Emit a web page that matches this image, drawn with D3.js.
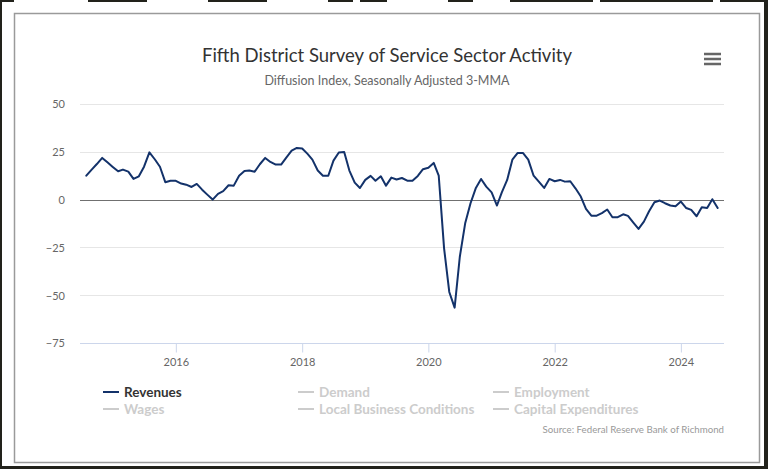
<!DOCTYPE html>
<html>
<head>
<meta charset="utf-8">
<script src="https://cdn.jsdelivr.net/npm/d3@7/dist/d3.min.js"></script>
<style>
  html, body { margin: 0; padding: 0; background: #fff; }
  svg { display: block; }
</style>
</head>
<body>
<svg id="chart" width="768" height="469"></svg>
<script>
// ---- data ----
const title = "Fifth District Survey of Service Sector Activity";
const subtitle = "Diffusion Index, Seasonally Adjusted 3-MMA";
const source = "Source: Federal Reserve Bank of Richmond";
const startMonth = "2014-08-01";
const revenues = [
  12.5, 15.7, 18.6, 21.8, 19.5, 17.1, 14.8, 15.7, 14.6, 10.8,
  12.2, 17.2, 24.7, 21.1, 17.2, 9.1, 9.9, 9.8, 8.4, 7.8,
  6.6, 8.2, 5.2, 2.6, 0, 3.0, 4.4, 7.5, 7.3, 12.5,
  15.0, 15.2, 14.6, 18.5, 21.8, 19.7, 18.3, 18.3, 22.0, 25.6,
  27.0, 26.7, 23.9, 20.9, 15.2, 12.5, 12.5, 20.4, 24.6, 24.9,
  15.2, 8.9, 6.1, 10.3, 12.4, 9.9, 12.2, 7.3, 11.5, 10.5,
  11.3, 9.9, 9.9, 12.4, 15.9, 16.7, 19.2, 12.5, -25.5, -48.3,
  -56.5, -29.9, -12.4, -1.9, 5.9, 10.8, 6.8, 3.8, -3.1, 3.8,
  10.3, 20.9, 24.4, 24.4, 20.9, 12.5, 9.4, 6.1, 10.8, 9.6,
  10.3, 9.4, 9.6, 5.9, 1.6, -4.9, -8.4, -8.4, -7.1, -5.2,
  -9.2, -9.2, -7.7, -8.5, -12, -15.3, -11.5, -6.1, -1.4, -0.5,
  -1.9, -3.1, -3.5, -1.0, -4.4, -5.4, -8.7, -4.0, -4.4, 0.2, -4.4
];
const yTicks = [-75, -50, -25, 0, 25, 50];
const xTickYears = [2016, 2018, 2020, 2022, 2024];
const legendItems = ["Revenues", "Demand", "Employment", "Wages", "Local Business Conditions", "Capital Expenditures"];
const legendActive = [true, false, false, false, false, false];

// ---- setup ----
const svg = d3.select("#chart");
const W = 768, H = 469;
const font = "Lato, 'Open Sans', sans-serif";

// outer screenshot frame
svg.append("rect").attr("x", 0).attr("y", 0).attr("width", W).attr("height", H).attr("fill", "#22221b");
svg.append("rect").attr("x", 2).attr("y", 2).attr("width", 762).attr("height", 464).attr("fill", "#ffffff");
// top strip light gaps
[[14, 88], [147, 208], [267, 328], [353, 360], [387, 448], [473, 510], [593, 600], [713, 720]].forEach(([a, b]) => {
  svg.append("rect").attr("x", a).attr("y", 0).attr("width", b - a).attr("height", 2).attr("fill", "#ffffff");
});
// inner chart border
svg.append("rect").attr("x", 14.5).attr("y", 13.5).attr("width", 745).attr("height", 449)
  .attr("fill", "#ffffff").attr("stroke", "#9a9a9a").attr("stroke-width", 1.5);

const dates = revenues.map((_, i) => d3.timeMonth.offset(new Date(startMonth + "T00:00:00"), i));
const data = dates.map((d, i) => ({ date: d, value: revenues[i] }));

const plot = { left: 80, right: 724, top: 104, bottom: 343 };
const ext = d3.extent(dates);
const pad = (ext[1] - ext[0]) * 0.01;
const x = d3.scaleTime()
  .domain([new Date(+ext[0] - pad), new Date(+ext[1] + pad)])
  .range([plot.left, plot.right]);
const y = d3.scaleLinear().domain([-75, 50]).range([plot.bottom, plot.top]);

// gridlines
const grid = svg.append("g");
yTicks.forEach(t => {
  grid.append("line")
    .attr("x1", plot.left).attr("x2", plot.right)
    .attr("y1", Math.round(y(t)) + 0.5).attr("y2", Math.round(y(t)) + 0.5)
    .attr("stroke", t === -75 ? "#ccd6eb" : (t === 0 ? "#707070" : "#e6e6e6"))
    .attr("stroke-width", 1);
});

// y axis labels
const yAxis = d3.axisLeft(y).tickValues(yTicks).tickSize(0).tickPadding(0);
const gy = svg.append("g").attr("transform", `translate(${plot.left - 15},0)`).call(yAxis);
gy.select(".domain").remove();
gy.selectAll("text").attr("font-family", font).attr("font-size", 11).attr("fill", "#666666")
  .attr("dy", "0.35em");

// x axis
const xTicks = xTickYears.map(yr => new Date(yr + "-01-01T00:00:00"));
const xAxis = d3.axisBottom(x).tickValues(xTicks).tickFormat(d3.timeFormat("%Y")).tickSize(9).tickPadding(6);
const gx = svg.append("g").attr("transform", `translate(0,${Math.round(y(-75)) + 0.5})`).call(xAxis);
gx.select(".domain").remove();
gx.selectAll("line").attr("stroke", "#ccd6eb");
gx.selectAll("text").attr("font-family", font).attr("font-size", 11).attr("fill", "#666666");

// line
const line = d3.line().x(d => x(d.date)).y(d => y(d.value));
svg.append("path").datum(data)
  .attr("d", line)
  .attr("fill", "none")
  .attr("stroke", "#13326a")
  .attr("stroke-width", 2)
  .attr("stroke-linejoin", "round")
  .attr("stroke-linecap", "round");

// title / subtitle
svg.append("text").attr("x", 387).attr("y", 62).attr("text-anchor", "middle")
  .attr("font-family", font).attr("font-size", 18.5).attr("fill", "#333333").text(title);
svg.append("text").attr("x", 387).attr("y", 85).attr("text-anchor", "middle")
  .attr("font-family", font).attr("font-size", 12.5).attr("fill", "#666666").text(subtitle);

// hamburger
[54, 59, 64].forEach(yy => {
  svg.append("rect").attr("x", 704).attr("y", yy - 1.25).attr("width", 17).attr("height", 2.5)
    .attr("fill", "#666666");
});

// legend
const legX = [103, 298, 493];
const legY = [392, 409];
legendItems.forEach((name, i) => {
  const col = i % 3, row = Math.floor(i / 3);
  const g = svg.append("g").attr("transform", `translate(${legX[col]},${legY[row]})`);
  const c = legendActive[i] ? "#13326a" : "#cccccc";
  g.append("line").attr("x1", 0).attr("x2", 16).attr("y1", 0).attr("y2", 0)
    .attr("stroke", c).attr("stroke-width", 2);
  g.append("text").attr("x", 21).attr("y", 0).attr("dy", "0.35em")
    .attr("font-family", font).attr("font-size", 13.5).attr("font-weight", "bold")
    .attr("fill", legendActive[i] ? "#333333" : "#cccccc").text(name);
});

// source
svg.append("text").attr("x", 724).attr("y", 433).attr("text-anchor", "end")
  .attr("font-family", font).attr("font-size", 9.7).attr("fill", "#999999").text(source);
</script>
</body>
</html>
